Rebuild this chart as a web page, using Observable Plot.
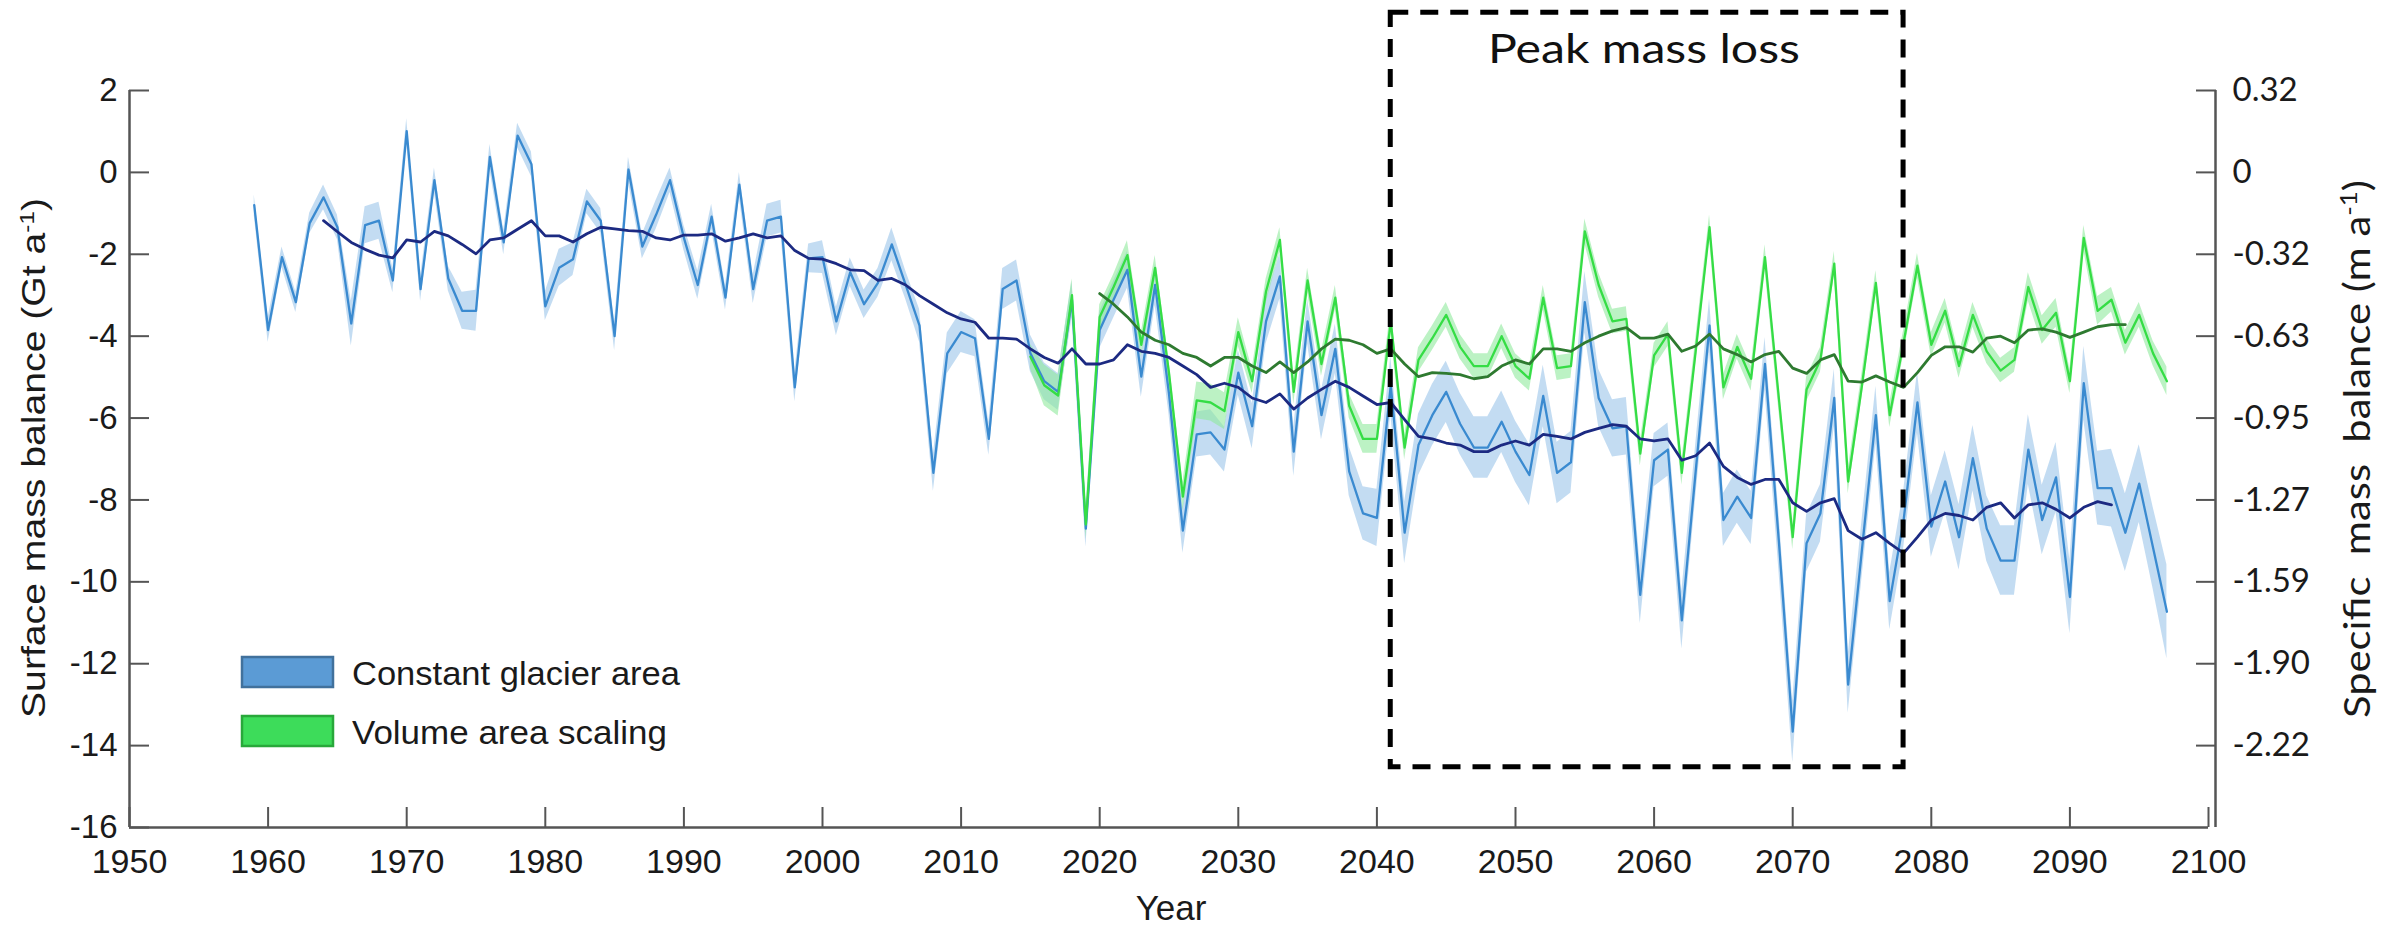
<!DOCTYPE html>
<html><head><meta charset="utf-8">
<script src="https://cdn.jsdelivr.net/npm/d3@7"></script>
<script src="https://cdn.jsdelivr.net/npm/@observablehq/plot@0.6"></script>
<style>
html,body{margin:0;padding:0;background:#fff;}
#chart{width:2407px;height:927px;}
</style></head><body><div id="chart"></div>
<script>
// ---------- data (Gt a-1) ----------
const blueStart = 1959;
const blueValues = [
 -0.8,-3.85,-2.07,-3.17,-1.24,-0.61,-1.34,-3.69,-1.29,-1.18,
 -2.64,1.01,-2.85,-0.19,-2.59,-3.38,-3.38,0.38,-1.71,0.9,
 0.2,-3.27,-2.33,-2.12,-0.71,-1.18,-4.0,0.07,-1.81,-1.03,
 -0.19,-1.6,-2.75,-1.08,-3.06,-0.3,-2.85,-1.18,-1.08,-5.25,
 -2.1,-2.07,-3.64,-2.44,-3.22,-2.7,-1.76,-2.75,-3.74,-7.34,
 -4.42,-3.9,-4.05,-6.51,-2.85,-2.64,-4.42,-5.1,-5.36,-3.11,
 -8.7,-3.85,-3.11,-2.38,-4.99,-2.75,-5.41,-8.75,-6.4,-6.35,
 -6.77,-4.89,-6.2,-3.64,-2.54,-6.82,-3.64,-5.93,-4.31,-7.3,
 -8.33,-8.44,-5.2,-8.8,-6.66,-5.93,-5.36,-6.14,-6.72,-6.72,
 -6.09,-6.82,-7.39,-5.46,-7.34,-7.08,-3.17,-5.51,-6.25,-6.2,
 -10.32,-7.03,-6.77,-10.94,-7.3,-3.74,-8.49,-7.92,-8.44,-4.68,
 -9.0,-13.66,-9.06,-8.33,-5.51,-12.51,-9.2,-5.93,-10.47,-8.5,
 -5.62,-8.65,-7.55,-8.91,-6.98,-8.7,-9.48,-9.48,-6.77,-8.49,
 -7.45,-10.37,-5.15,-7.71,-7.71,-8.8,-7.6,-9.17,-10.73
];
const blueSpread = [
 0.25,0.3,0.25,0.25,0.25,0.3,0.3,
 0.55,0.45,0.45,0.3,0.3,0.3,0.3,0.3,0.45,0.5,
 0.3,0.3,0.3,0.3,0.35,0.45,0.4,0.3,0.3,0.35,
 0.3,0.3,0.35,0.3,0.3,0.35,0.3,0.3,0.3,0.35,
 0.4,0.4,0.35,0.35,0.4,0.35,0.35,0.35,0.35,0.4,
 0.35,0.4,0.45,0.5,0.5,0.45,0.4,0.5,0.5,0.45,
 0.45,0.45,0.45,0.45,0.45,0.45,0.45,0.5,0.5,0.5,
 0.55,0.55,0.55,0.55,0.55,0.55,0.55,0.55,0.6,0.55,
 0.6,0.6,0.6,0.65,0.7,0.7,0.75,0.75,0.75,0.75,
 0.75,0.75,0.75,0.75,0.75,0.75,0.75,0.75,0.75,0.75,
 0.7,0.7,0.7,0.7,0.65,0.65,0.7,0.65,0.65,0.65,
 0.65,0.65,0.65,0.7,0.75,0.7,0.7,0.7,0.7,0.7,
 0.7,0.7,0.7,0.75,0.75,0.75,0.8,0.8,0.8,0.85,
 0.85,0.85,0.85,0.85,0.9,0.9,0.9,0.95,0.95,0.95,
 1.0,1.15
];
const greenStart = 2015;
const greenValues = [
 -4.5,-5.2,-5.45,-3.0,-8.6,-3.53,-2.8,-2.02,-4.21,-2.33,
 -4.9,-7.92,-5.57,-5.62,-5.83,-3.9,-5.1,-2.91,-1.65,-5.36,
 -2.64,-4.68,-3.06,-5.7,-6.51,-6.51,-3.64,-6.72,-4.58,-4.05,
 -3.48,-4.26,-4.73,-4.73,-4.0,-4.73,-5.04,-3.06,-4.78,-4.73,
 -1.44,-2.75,-3.64,-3.58,-6.87,-4.47,-3.95,-7.34,-4.37,-1.34,
 -5.25,-4.26,-5.04,-2.07,-5.51,-8.91,-5.3,-4.58,-2.23,-7.55,
 -5.2,-2.7,-5.93,-4.16,-2.28,-4.21,-3.38,-4.73,-3.48,-4.37,
 -4.84,-4.58,-2.8,-3.85,-3.43,-5.1,-1.6,-3.38,-3.11,-4.16,
 -3.48,-4.42,-5.1
];
const greenSpread = [
 0.3,0.5,0.5,0.4,0.35,0.3,0.3,0.35,0.3,0.3,
 0.3,0.35,0.45,0.45,0.45,0.35,0.3,0.3,0.3,0.3,
 0.3,0.3,0.3,0.3,0.35,0.35,0.3,0.3,0.3,0.3,
 0.3,0.3,0.3,0.3,0.3,0.3,0.3,0.3,0.3,0.3,
 0.3,0.3,0.3,0.3,0.3,0.3,0.3,0.3,0.3,0.3,
 0.3,0.3,0.3,0.3,0.3,0.3,0.3,0.3,0.3,0.3,
 0.3,0.3,0.3,0.3,0.3,0.3,0.3,0.3,0.3,0.3,
 0.3,0.3,0.35,0.35,0.35,0.3,0.3,0.35,0.3,0.3,
 0.3,0.3,0.35
];
const blueMeanStart = 1964;
const blueMean = [
 -1.18,-1.45,-1.71,-1.88,-2.02,-2.09,-1.65,-1.7,-1.44,-1.55,
 -1.76,-1.99,-1.65,-1.6,-1.39,-1.18,-1.55,-1.55,-1.7,-1.5,
 -1.34,-1.38,-1.42,-1.44,-1.6,-1.65,-1.53,-1.53,-1.5,-1.68,
 -1.6,-1.5,-1.6,-1.55,-1.91,-2.1,-2.12,-2.23,-2.38,-2.4,
 -2.64,-2.59,-2.75,-3.01,-3.22,-3.43,-3.58,-3.66,-4.05,-4.05,
 -4.07,-4.31,-4.52,-4.66,-4.31,-4.68,-4.68,-4.58,-4.21,-4.37,
 -4.42,-4.52,-4.73,-4.94,-5.25,-5.15,-5.25,-5.51,-5.62,-5.41,
 -5.78,-5.51,-5.3,-5.1,-5.25,-5.46,-5.67,-5.62,-6.04,-6.45,
 -6.51,-6.61,-6.66,-6.82,-6.82,-6.66,-6.56,-6.66,-6.4,-6.45,
 -6.51,-6.35,-6.25,-6.16,-6.2,-6.51,-6.56,-6.51,-7.03,-6.92,
 -6.61,-7.18,-7.45,-7.62,-7.5,-7.5,-8.07,-8.28,-8.07,-7.97,
 -8.75,-8.96,-8.8,-9.06,-9.3,-8.91,-8.49,-8.33,-8.38,-8.49,
 -8.18,-8.07,-8.44,-8.12,-8.07,-8.23,-8.44,-8.18,-8.04,-8.12
];
const greenMeanStart = 2020;
const greenMean = [
 -2.96,-3.22,-3.53,-3.9,-4.1,-4.21,-4.42,-4.52,-4.73,-4.52,
 -4.52,-4.73,-4.89,-4.63,-4.89,-4.63,-4.31,-4.07,-4.1,-4.21,
 -4.42,-4.31,-4.68,-4.99,-4.89,-4.91,-4.94,-5.04,-4.99,-4.73,
 -4.58,-4.68,-4.31,-4.31,-4.37,-4.16,-4.0,-3.87,-3.79,-4.05,
 -4.05,-3.95,-4.37,-4.24,-3.95,-4.31,-4.45,-4.63,-4.45,-4.37,
 -4.78,-4.91,-4.58,-4.45,-5.1,-5.12,-4.97,-5.12,-5.25,-4.89,
 -4.47,-4.26,-4.26,-4.39,-4.05,-4.0,-4.16,-3.85,-3.82,-3.9,
 -4.03,-3.9,-3.77,-3.72,-3.72
];
const xTicks = [1950,1960,1970,1980,1990,2000,2010,2020,2030,2040,2050,2060,2070,2080,2090,2100];
const yTicks = [2,0,-2,-4,-6,-8,-10,-12,-14,-16];
const rightTicks = [2,0,-2,-4,-6,-8,-10,-12,-14];
const rightLabels = ["0.32","0","-0.32","-0.63","-0.95","-1.27","-1.59","-1.90","-2.22"];
const peakBox = [{x1: 2041, x2: 2078, y1: -14.53, y2: 3.9}];
const peakLabel = {text: "Peak mass loss", x: 2059.3, y: 3.0};
const seriesNames = ["Constant glacier area", "Volume area scaling"];

// ---------- tables ----------
const blueRows = blueValues.map((v, i) => ({year: blueStart + i, v, lo: v - blueSpread[i], hi: v + blueSpread[i]}));
const greenRows = greenValues.map((v, i) => ({year: greenStart + i, v, lo: v - greenSpread[i], hi: v + greenSpread[i]}));
const blueMeanRows = blueMean.map((v, i) => ({year: blueMeanStart + i, v}));
const greenMeanRows = greenMean.map((v, i) => ({year: greenMeanStart + i, v}));
const rightMap = new Map(rightTicks.map((t, i) => [t, rightLabels[i]]));

const AX = "#555";
const FONT = "'Liberation Sans', Arial, sans-serif";
const FONT2 = "Lato, 'Open Sans', sans-serif";

const chart = Plot.plot({
  width: 2407, height: 927,
  marginLeft: 129, marginRight: 199, marginTop: 90, marginBottom: 100,
  style: {fontFamily: FONT, fontSize: "33px", color: "#1a1a1a", background: "#fff", overflow: "visible"},
  x: {domain: [1950, 2100]},
  y: {domain: [-16, 2]},
  marks: [
    Plot.areaY(blueRows, {x: "year", y1: "lo", y2: "hi", fill: "#a9cdec", fillOpacity: 0.7}),
    Plot.areaY(greenRows, {x: "year", y1: "lo", y2: "hi", fill: "#8fe99c", fillOpacity: 0.6}),
    Plot.line(blueRows, {x: "year", y: "v", stroke: "#3a8ad0", strokeWidth: 2.3}),
    Plot.line(greenRows, {x: "year", y: "v", stroke: "#35dd45", strokeWidth: 2.3}),
    Plot.line(blueMeanRows, {x: "year", y: "v", stroke: "#1c2a82", strokeWidth: 2.8}),
    Plot.line(greenMeanRows, {x: "year", y: "v", stroke: "#2e7a30", strokeWidth: 2.8}),
    Plot.rect(peakBox, {x1: "x1", x2: "x2", y1: "y1", y2: "y2", fill: "none", stroke: "#000", strokeWidth: 5, strokeDasharray: "18,12"}),
    Plot.ruleX([1950], {stroke: AX, strokeWidth: 2.5}),
    Plot.ruleX([2100], {stroke: AX, strokeWidth: 2.5, dx: 7}),
    Plot.ruleY([-16], {stroke: AX, strokeWidth: 2.5}),
    Plot.axisX({ticks: xTicks, tickFormat: d => String(d), tickSize: -20, tickPadding: 41, stroke: AX, strokeWidth: 2, fontSize: 34, label: null}),
    Plot.axisY({anchor: "left", ticks: yTicks, tickFormat: d => String(d), tickSize: -20, tickPadding: 32, stroke: AX, strokeWidth: 2, fontSize: 33, label: null}),
    Plot.axisY({anchor: "right", ticks: rightTicks, tickFormat: d => rightMap.get(d), tickSize: -20, tickPadding: 37, dx: 7, stroke: AX, strokeWidth: 2, fontSize: 33, fontFamily: FONT2, label: null})
  ]
});
document.getElementById("chart").appendChild(chart);

// ---------- titles, annotation & legend (text) ----------
const svg = d3.select(chart);
const sx = chart.scale("x"), sy = chart.scale("y");
function rotTitle(x, y, parts, font, size, len) {
  const t = svg.append("text")
    .attr("transform", `translate(${x},${y}) rotate(-90)`)
    .attr("text-anchor", "middle").attr("font-family", font).attr("font-size", size)
    .attr("fill", "#1a1a1a").attr("textLength", len).attr("lengthAdjust", "spacingAndGlyphs");
  parts.forEach(p => {
    const s = t.append("tspan").text(p.t);
    if (p.sup) s.attr("baseline-shift", "super").attr("font-size", size * 0.62);
  });
}
rotTitle(45, 458, [{t: "Surface mass balance (Gt a"}, {t: "-1", sup: true}, {t: ")"}], FONT, 33, 520);
rotTitle(2370, 449, [{t: "Specific  mass  balance (m a"}, {t: "-1", sup: true}, {t: ")"}], FONT2, 36, 538);

svg.append("text").attr("x", 1171).attr("y", 920).attr("text-anchor", "middle")
  .attr("font-family", FONT).attr("font-size", 35).attr("fill", "#1a1a1a").text("Year");

svg.append("text").attr("x", sx.apply(peakLabel.x)).attr("y", sy.apply(peakLabel.y))
  .attr("dy", "0.35em").attr("text-anchor", "middle")
  .attr("font-family", FONT2).attr("font-size", 40).attr("fill", "#111")
  .attr("textLength", 312).attr("lengthAdjust", "spacingAndGlyphs").text(peakLabel.text);

const legend = [
  {name: seriesNames[0], fill: "#5b9bd5", stroke: "#41719c", y: 657, len: 328},
  {name: seriesNames[1], fill: "#3ddc5a", stroke: "#28a83a", y: 716, len: 315}
];
legend.forEach(l => {
  svg.append("rect").attr("x", 242).attr("y", l.y).attr("width", 91).attr("height", 30)
    .attr("fill", l.fill).attr("stroke", l.stroke).attr("stroke-width", 2.5);
  svg.append("text").attr("x", 352).attr("y", l.y + 28).attr("text-anchor", "start")
    .attr("font-family", FONT).attr("font-size", 33)
    .attr("fill", "#1a1a1a").attr("textLength", l.len).attr("lengthAdjust", "spacingAndGlyphs").text(l.name);
});
</script>
</body></html>
